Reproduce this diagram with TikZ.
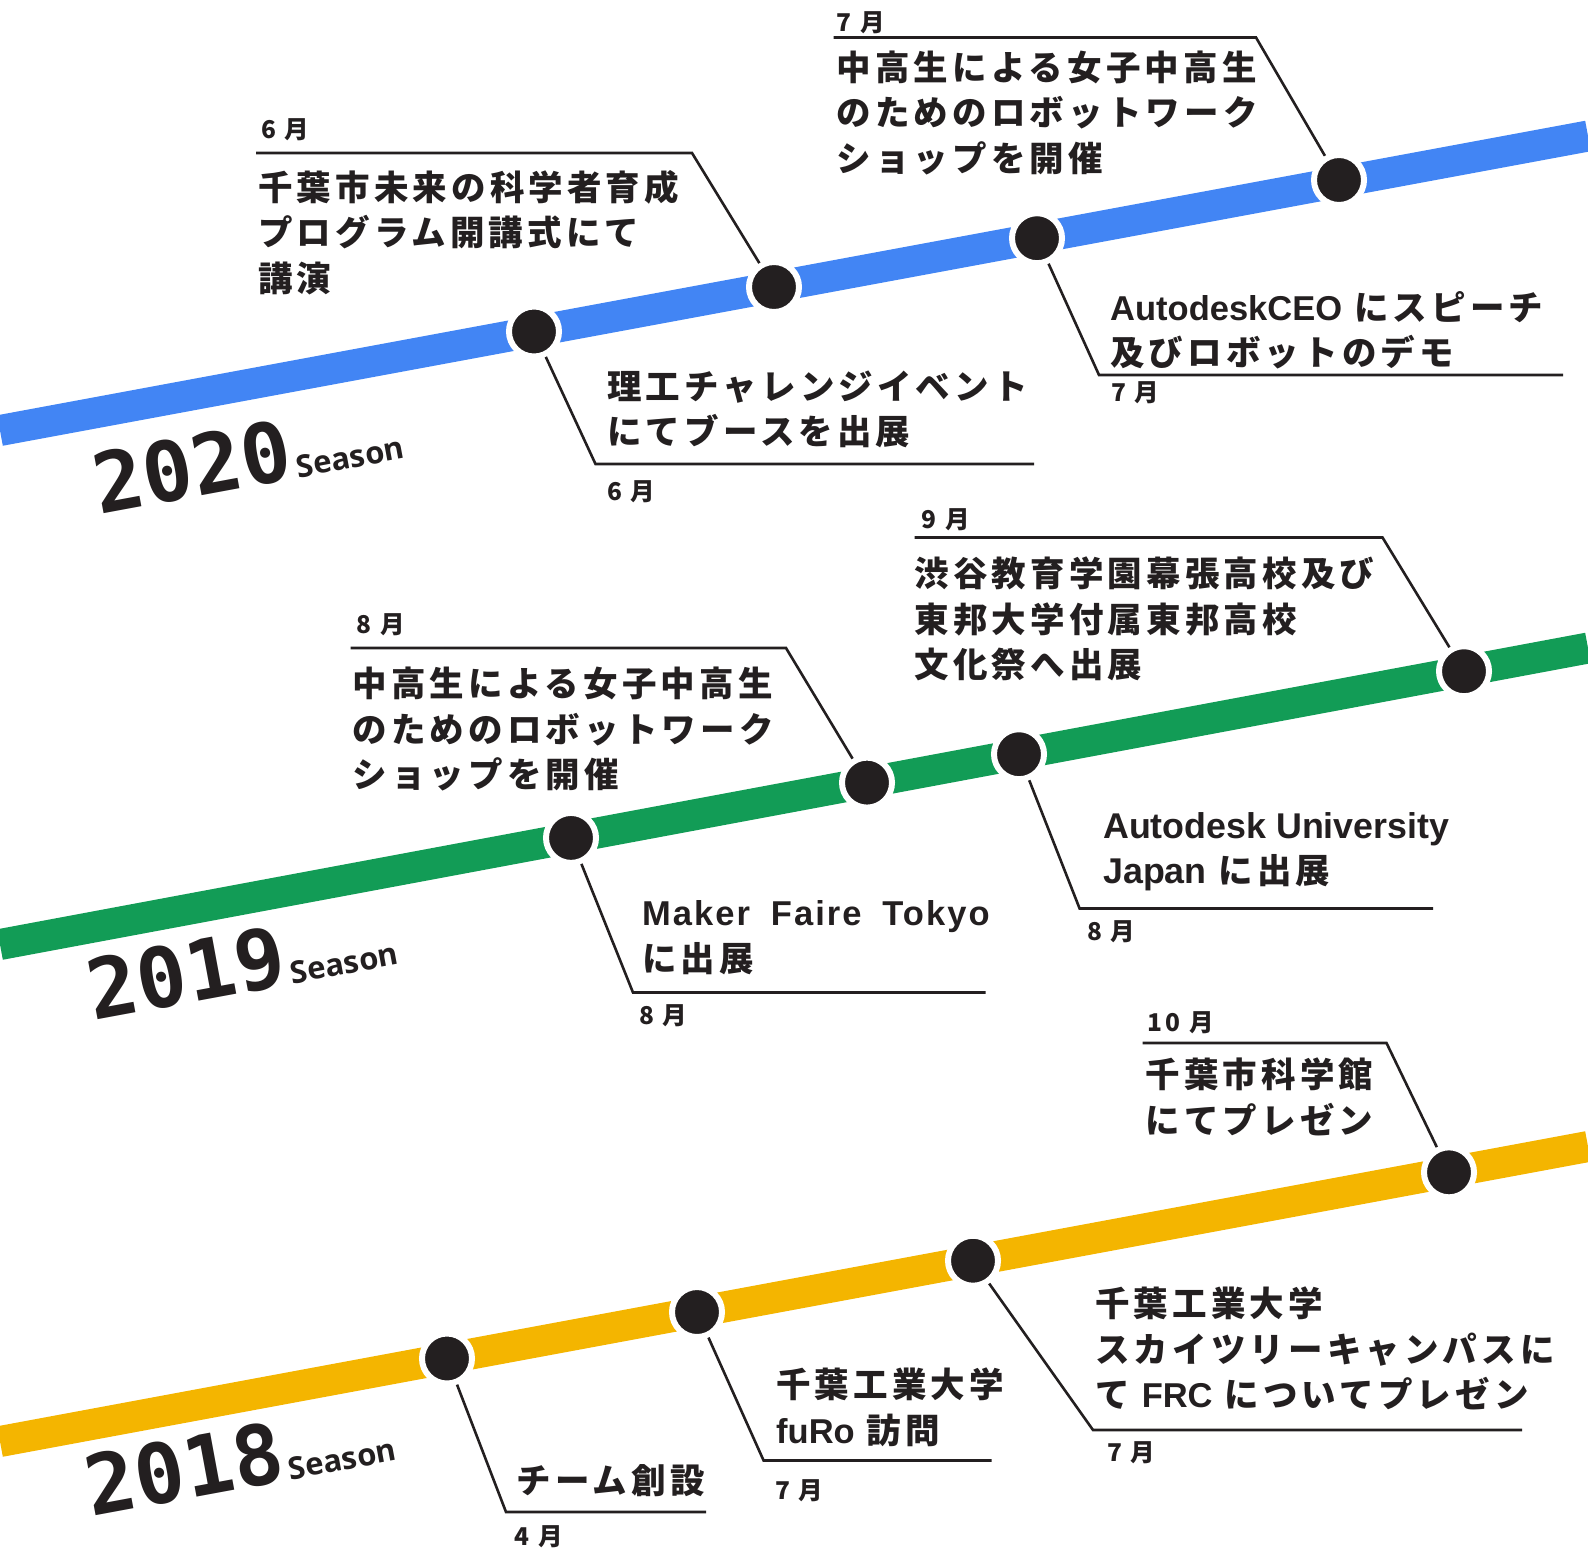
\documentclass[tikz,border=0pt]{standalone}
\usepackage{fontspec}
\newfontfamily\jp{Noto Sans CJK JP}[LetterSpace=12]
\newfontfamily\lat{Liberation Sans}
\newfontfamily\latw{Liberation Sans}[LetterSpace=6]
\newfontfamily\yrf{DejaVu Sans Mono}
\newfontfamily\seaf{Open Sans}
\definecolor{cblue}{RGB}{66,133,244}
\definecolor{cgreen}{RGB}{18,156,86}
\definecolor{cyellow}{RGB}{244,181,0}
\definecolor{cdark}{RGB}{35,31,32}
\tikzset{
  track/.style={line width=31pt, line cap=butt},
  stopdot/.style={circle, fill=cdark, draw=white, line width=6pt, minimum size=50pt, inner sep=0pt},
  lead/.style={line width=2.6pt, draw=cdark},
  ev/.style={anchor=west, inner sep=0pt, align=left, text=cdark, font=\jp\bfseries\fontsize{34.5}{45.6}\selectfont},
  mon/.style={anchor=west, inner sep=0pt, text=cdark, font=\jp\bfseries\fontsize{24.5}{28}\selectfont},
  yearlbl/.style={anchor=base west, inner sep=0pt, rotate=10.5, text=cdark},
}
\newcommand{\yrtext}[1]{{\yrf\bfseries\fontsize{83}{83}\selectfont #1}\kern3pt{\seaf\bfseries\fontsize{31}{31}\selectfont Season}}
\newcommand{\latx}[1]{{\lat\bfseries\fontsize{34.5}{45.6}\selectfont #1}}
\newcommand{\latb}[1]{{\lat\bfseries\fontsize{35.8}{45.6}\selectfont #1}}
\newcommand{\latm}[1]{{\latw\bfseries\fontsize{34.5}{45.6}\selectfont #1}}
\begin{document}
\begin{tikzpicture}[x=1pt,y=-1pt]
\clip (0,0) rectangle (1588,1551);
% tracks
\coordinate (bl) at (0,430.5); \coordinate (br) at (1588,136);
\coordinate (gl) at (0,944.5); \coordinate (gr) at (1588,648);
\coordinate (yl) at (0,1441.5); \coordinate (yr) at (1588,1146.5);
\draw[track, cblue] (bl) -- (br);
\draw[track, cgreen] (gl) -- (gr);
\draw[track, cyellow] (yl) -- (yr);
% stops
\node[stopdot] (b1) at (534,331.5) {};
\node[stopdot] (b2) at (774,287) {};
\node[stopdot] (b3) at (1037,238.2) {};
\node[stopdot] (b4) at (1339,180) {};
\node[stopdot] (g1) at (571,837.9) {};
\node[stopdot] (g2) at (867,782.6) {};
\node[stopdot] (g3) at (1019,754.2) {};
\node[stopdot] (g4) at (1464,671.2) {};
\node[stopdot] (y1) at (447,1358.5) {};
\node[stopdot] (y2) at (697,1312) {};
\node[stopdot] (y3) at (973,1260.7) {};
\node[stopdot] (y4) at (1449,1172.3) {};
% year labels
\node[yearlbl] (s2020) at (99,515) {\yrtext{2020}};
\node[yearlbl] (s2019) at (93,1021) {\yrtext{2019}};
\node[yearlbl] (s2018) at (91,1517) {\yrtext{2018}};
% ---- 2020 ----
\coordinate (b2e) at (256,153); \coordinate (b2c) at (692,153);
\draw[lead] (b2e) -- (b2c) -- (b2);
\node[mon] (b2m) at (261,130) {6 月};
\node[ev] (b2t) at (258,232.7) {千葉市未来の科学者育成\\プログラム開講式にて\\講演};

\coordinate (b1c) at (595.5,464); \coordinate (b1e) at (1034,464);
\draw[lead] (b1) -- (b1c) -- (b1e);
\node[ev] (b1t) at (607,409.3) {理工チャレンジイベント\\にてブースを出展};
\node[mon] (b1m) at (607,492) {6 月};

\coordinate (b4e) at (833.5,37.5); \coordinate (b4c) at (1256,37.5);
\draw[lead] (b4e) -- (b4c) -- (b4);
\node[mon] (b4m) at (836.5,22.3) {7 月};
\node[ev] (b4t) at (836.5,112.8) {中高生による女子中高生\\のためのロボットワーク\\ショップを開催};

\coordinate (b3c) at (1099,375); \coordinate (b3e) at (1563,375);
\draw[lead] (b3) -- (b3c) -- (b3e);
\node[ev] (b3t) at (1110,330.3) {\latx{AutodeskCEO} にスピーチ\\及びロボットのデモ};
\node[mon] (b3m) at (1111,393) {7 月};
% ---- 2019 ----
\coordinate (g2e) at (350.5,648); \coordinate (g2c) at (786,648);
\draw[lead] (g2e) -- (g2c) -- (g2);
\node[mon] (g2m) at (356.5,625) {8 月};
\node[ev] (g2t) at (352.5,729.2) {中高生による女子中高生\\のためのロボットワーク\\ショップを開催};

\coordinate (g1c) at (633,992.5); \coordinate (g1e) at (985.5,992.5);
\draw[lead] (g1) -- (g1c) -- (g1e);
\node[ev] (g1t) at (642,937.8) {\latm{Maker\hspace{0.6em}Faire\hspace{0.6em}Tokyo}\\に出展};
\node[mon] (g1m) at (639,1016) {8 月};

\coordinate (g4e) at (914.5,537.5); \coordinate (g4c) at (1382.5,537.5);
\draw[lead] (g4e) -- (g4c) -- (g4);
\node[mon] (g4m) at (921.6,519.6) {9 月};
\node[ev] (g4t) at (914.5,619) {渋谷教育学園幕張高校及び\\東邦大学付属東邦高校\\文化祭へ出展};

\coordinate (g3c) at (1079.6,908.5); \coordinate (g3e) at (1433,908.5);
\draw[lead] (g3) -- (g3c) -- (g3e);
\node[ev] (g3t) at (1103,851.8) {\latb{Autodesk University}\\\latb{Japan} に出展};
\node[mon] (g3m) at (1087,932) {8 月};
% ---- 2018 ----
\coordinate (y4e) at (1142.5,1043); \coordinate (y4c) at (1386.5,1043);
\draw[lead] (y4e) -- (y4c) -- (y4);
\node[mon] (y4m) at (1147.5,1023) {10 月};
\node[ev] (y4t) at (1145.5,1096.8) {千葉市科学館\\にてプレゼン};

\coordinate (y3c) at (1093,1430); \coordinate (y3e) at (1522,1430);
\draw[lead] (y3) -- (y3c) -- (y3e);
\node[ev] (y3t) at (1095,1348.5) {千葉工業大学\\スカイツリーキャンパスに\\て \latx{FRC} についてプレゼン};
\node[mon] (y3m) at (1107,1452.4) {7 月};

\coordinate (y2c) at (763.6,1460.5); \coordinate (y2e) at (991.5,1460.5);
\draw[lead] (y2) -- (y2c) -- (y2e);
\node[ev] (y2t) at (776,1407.3) {千葉工業大学\\\latx{fuRo} 訪問};
\node[mon] (y2m) at (775,1491) {7 月};

\coordinate (y1c) at (506,1512); \coordinate (y1e) at (706,1512);
\draw[lead] (y1) -- (y1c) -- (y1e);
\node[ev] (y1t) at (516.5,1480.7) {チーム創設};
\node[mon] (y1m) at (514.5,1537) {4 月};
\end{tikzpicture}
\end{document}
